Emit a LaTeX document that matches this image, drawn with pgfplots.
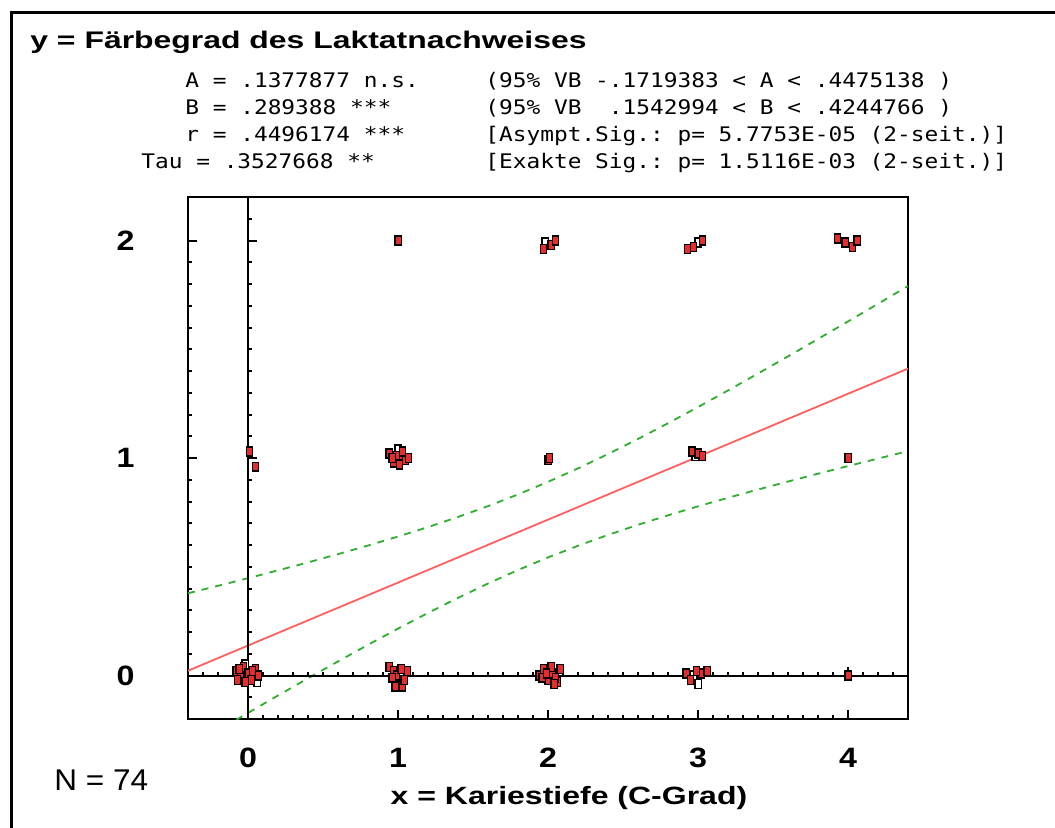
\documentclass[border=0pt]{standalone}
\usepackage{pgfplots}
\pgfplotsset{compat=1.18}
\usepackage{pgfplotstable}
\usepackage{graphicx}
\usepackage{fontspec}
\setmainfont{Liberation Sans}
\setsansfont{Liberation Sans}
\setmonofont{DejaVu Sans Mono}

\definecolor{ptred}{RGB}{230,45,45}
\definecolor{linered}{RGB}{255,95,95}
\definecolor{cigreen}{RGB}{45,175,45}

\newcommand\tl[1]{\scalebox{1.15}[1]{#1}}
\newcommand\mono[1]{\scalebox{1}[0.88]{#1}}

% jittered observations (N = 74)
\pgfplotstableread{
x y
-0.08 0.02
-0.05 0.00
-0.07 -0.02
-0.03 0.04
0.00 0.01
0.02 -0.02
0.05 0.03
-0.02 -0.03
0.03 0.02
0.07 0.00
-0.06 0.03
0.01 1.03
0.05 0.96
0.94 0.04
0.97 0.02
1.00 -0.03
1.03 -0.05
0.99 0.00
1.06 0.02
0.96 -0.01
1.02 0.03
0.98 -0.05
1.04 -0.02
0.94 1.02
0.97 0.98
1.02 0.99
0.99 1.01
1.05 0.99
1.07 1.00
0.96 1.00
1.03 1.03
1.01 0.97
1.00 2.00
1.94 0.00
1.97 0.03
2.00 -0.02
2.03 0.01
2.06 -0.03
2.08 0.03
1.96 -0.01
2.02 0.04
2.05 -0.01
1.99 0.01
2.04 -0.04
2.00 0.99
2.01 1.00
1.97 1.96
2.02 1.98
2.05 2.00
2.92 0.01
2.95 -0.02
3.02 0.01
2.99 0.02
3.06 0.02
2.96 1.03
3.00 1.02
3.03 1.01
2.93 1.96
2.97 1.97
3.03 2.00
4.00 0.00
4.00 1.00
3.93 2.01
3.98 1.99
4.03 1.97
4.06 2.00
}\redpts

\pgfplotstableread{
x y
-0.02 0.05
0.06 -0.03
1.00 1.04
1.98 1.99
2.97 0.00
3.00 -0.04
2.98 1.01
3.00 1.99
}\whitepts

\begin{document}
\begin{tikzpicture}
\path[use as bounding box] (0,0) rectangle (527.5pt,413.5pt);
\draw[line width=1.5pt] (5.5pt,-20pt) rectangle (560pt,407pt);

\node[anchor=base west, inner sep=0pt, font=\fontsize{12}{12}\selectfont\bfseries]
  at (15pt,389pt) {\scalebox{1.33}[1]{y = Färbegrad des Laktatnachweises}};

\begin{scope}[every node/.style={anchor=base west, inner sep=0pt, font=\fontsize{11.4}{11.4}\selectfont\ttfamily}]
\node at (92.5pt,370pt)   {\mono{A = .1377877 n.s.}};
\node at (92.5pt,356.5pt) {\mono{B = .289388 ***}};
\node at (92.5pt,343pt)   {\mono{r = .4496174 ***}};
\node at (70.5pt,329.5pt) {\mono{Tau = .3527668 **}};
\node at (242.5pt,370pt)   {\mono{(95\% VB -.1719383 < A < .4475138 )}};
\node at (242.5pt,356.5pt) {\mono{(95\% VB~~.1542994 < B < .4244766 )}};
\node at (242.5pt,343pt)   {\mono{[Asympt.Sig.: p= 5.7753E-05 (2-seit.)]}};
\node at (242.5pt,329.5pt) {\mono{[Exakte Sig.: p= 1.5116E-03 (2-seit.)]}};
\end{scope}

\begin{axis}[
    at={(94pt,54pt)}, anchor=south west,
    scale only axis,
    width=360pt, height=261pt,
    xmin=-0.4, xmax=4.4,
    ymin=-0.2, ymax=2.2,
    xtick={0,1,2,3,4},
    ytick={0,1,2},
    xticklabels={\tl{0},\tl{1},\tl{2},\tl{3},\tl{4}},
    yticklabels={\tl{0},\tl{1},\tl{2}},
    minor x tick num=9,
    minor y tick num=9,
    tick pos=left,
    tick align=inside,
    major tick length=4.5pt,
    minor tick length=2pt,
    tick style={black, line width=1pt},
    axis line style={line width=1.2pt},
    xticklabel style={anchor=base, yshift=-24pt, inner sep=0pt,
        font=\fontsize{14}{14}\selectfont\bfseries},
    yticklabel style={anchor=east, xshift=-26.5pt, inner sep=0pt,
        font=\fontsize{14}{14}\selectfont\bfseries},
]
\addplot[linered, line width=0.9pt] coordinates {(-0.4,0.0220) (4.4,1.4111)};
\addplot[cigreen, line width=0.9pt, dash pattern=on 3.5pt off 3.5pt] coordinates {
    (-0.4,0.378) (-0.2,0.4123) (0,0.4475) (0.2,0.4834) (0.4,0.520)
    (0.6,0.5581) (0.8,0.5975) (1.0,0.6389) (1.2,0.6824) (1.4,0.7288)
    (1.6,0.7787) (1.8,0.8325) (2.0,0.8904) (2.2,0.9523) (2.4,1.0182)
    (2.6,1.0875) (2.8,1.1598) (3.0,1.2342) (3.2,1.3105) (3.4,1.3883)
    (3.6,1.4673) (3.8,1.5472) (4.0,1.6277) (4.2,1.7089) (4.4,1.7907)
};
\addplot[cigreen, line width=0.9pt, dash pattern=on 3.5pt off 3.5pt] coordinates {
    (-0.4,-0.334) (-0.2,-0.2525) (0,-0.172) (0.2,-0.0920) (0.4,-0.013)
    (0.6,0.0647) (0.8,0.1411) (1.0,0.2155) (1.2,0.2878) (1.4,0.3570)
    (1.6,0.4229) (1.8,0.4849) (2.0,0.5428) (2.2,0.5965) (2.4,0.6464)
    (2.6,0.6929) (2.8,0.7364) (3.0,0.7778) (3.2,0.8171) (3.4,0.8551)
    (3.6,0.8919) (3.8,0.9278) (4.0,0.9629) (4.2,0.9975) (4.4,1.0315)
};
\addplot[only marks, mark=square*, mark size=1.6pt,
    mark options={fill=white, draw=black, line width=0.7pt, yscale=1.4}] table {\whitepts};
\addplot[only marks, mark=square*, mark size=1.6pt,
    mark options={fill=ptred, draw=black, line width=0.7pt, yscale=1.4}] table {\redpts};

% axes through the origin, with their ticks
\pgfplotsextra{
  \draw[line width=1pt] (axis cs:0,-0.2) -- (axis cs:0,2.2);
  \draw[line width=1pt] (axis cs:-0.4,0) -- (axis cs:4.4,0);
  \foreach \i in {-1,...,21} {
    \pgfmathsetmacro\v{\i/10}
    \draw[line width=1pt] (axis cs:0,\v) -- (axis cs:0.027,\v);
  }
  \foreach \v in {1,2} {\draw[line width=1pt] (axis cs:0,\v) -- (axis cs:0.06,\v);}
  \foreach \i in {-3,...,43} {
    \pgfmathsetmacro\v{\i/10}
    \draw[line width=1pt] (axis cs:\v,0) -- (axis cs:\v,0.018);
  }
  \foreach \v in {1,2,3,4} {\draw[line width=1pt] (axis cs:\v,0) -- (axis cs:\v,0.041);}
}
\end{axis}

\node[anchor=base, inner sep=0pt, font=\fontsize{12.5}{12.5}\selectfont\bfseries]
  at (284.5pt,11.5pt) {\scalebox{1.28}[1]{x = Kariestiefe (C-Grad)}};
\node[anchor=base west, inner sep=0pt, font=\fontsize{15}{15}\selectfont]
  at (27pt,18.5pt) {\scalebox{1.05}[1]{N = 74}};
\end{tikzpicture}
\end{document}
